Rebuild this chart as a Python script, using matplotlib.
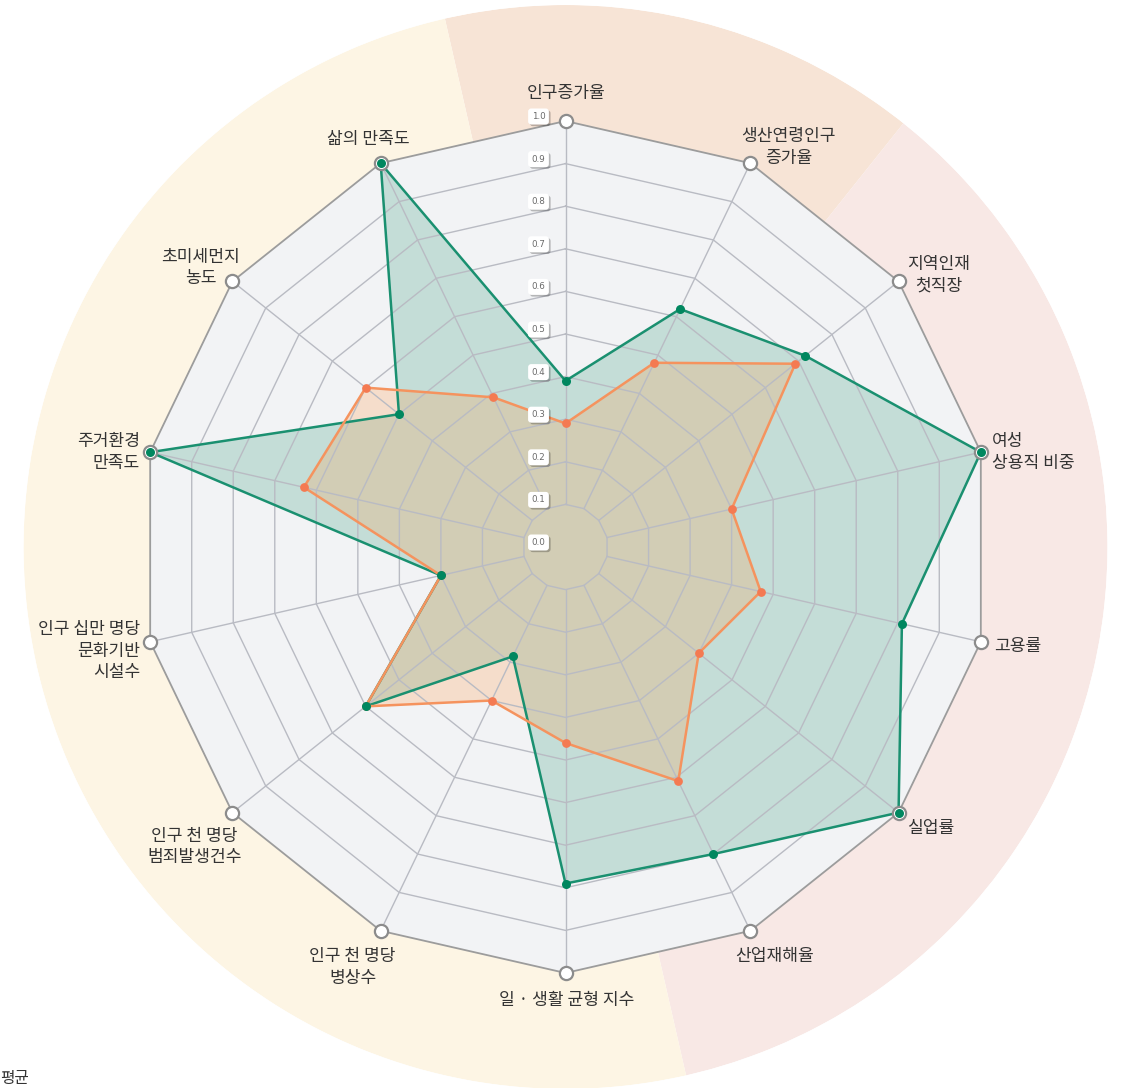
import numpy as np
import matplotlib
matplotlib.use('Agg')
import matplotlib.pyplot as plt
from matplotlib import patheffects as pe

plt.rcParams['font.family'] = ['Noto Sans CJK KR', 'DejaVu Sans']

# ---------------- data ----------------
categories = ['인구증가율', '생산연령인구\n증가율', '지역인재\n첫직장', '여성\n상용직 비중', '고용률',
              '실업률', '산업재해율', '일 · 생활 균형 지수', '인구 천 명당\n병상수',
              '인구 천 명당\n범죄발생건수', '인구 십만 명당\n문화기반\n시설수', '주거환경\n만족도',
              '초미세먼지\n농도', '삶의 만족도']
region_values = [0.39, 0.62, 0.72, 1.00, 0.81, 1.00, 0.80, 0.79, 0.285, 0.60, 0.30, 1.00, 0.50, 1.00]
average_values = [0.29, 0.48, 0.69, 0.40, 0.47, 0.40, 0.61, 0.46, 0.40, 0.60, 0.30, 0.63, 0.60, 0.39]
axis_groups = [0, 0, 1, 1, 1, 1, 1, 2, 2, 2, 2, 2, 2, 2]
group_colors = ['#F7E4D6', '#F8E8E5', '#FDF5E4']
tick_values = [0.0, 0.1, 0.2, 0.3, 0.4, 0.5, 0.6, 0.7, 0.8, 0.9, 1.0]
legend_text = '평균'

# label placement (pixel offsets from axis end, x right / y down), alignment
label_offsets = [(1, -28), (38, -16), (40, -7), (11, 0), (13, 4), (9, 15), (24, 25),
                 (1, 27), (-28, 36), (-38, 34), (-10, 9), (-10, 0), (-32, -14), (-12, -24)]
label_ha = ['center', 'center', 'center', 'left', 'left', 'left', 'center',
            'center', 'center', 'center', 'right', 'right', 'center', 'center']

# ---------------- layout ----------------
W, H = 1128, 1088
CX, CY = 565.5, 547.0
R1 = 426.0          # pixel radius of value 1.0
RBG = 542.0         # background circle radius
RMAX = RBG / R1

fig = plt.figure(figsize=(W / 100, H / 100), dpi=100)
fig.patch.set_facecolor('white')
ax = fig.add_axes([(CX - RBG) / W, (H - CY - RBG) / H, 2 * RBG / W, 2 * RBG / H], projection='polar')
ax.set_theta_zero_location('N')
ax.set_theta_direction(-1)
ax.set_ylim(0, RMAX)
ax.set_axis_off()

N = len(categories)
step = 2 * np.pi / N
theta = np.arange(N) * step
theta_c = np.append(theta, theta[0])

# background sectors
for g, col in enumerate(group_colors):
    idx = [i for i in range(N) if axis_groups[i] == g]
    start = theta[min(idx)] - step / 2
    end = theta[max(idx)] + step / 2
    ax.bar((start + end) / 2, RMAX, width=end - start, bottom=0, color=col,
           edgecolor='none', zorder=0)

# inner polygon background
ax.fill(theta_c, np.ones(N + 1), color='#F2F3F5', zorder=1, lw=0)

# data fills
ax.fill(theta_c, np.append(region_values, region_values[0]), color='#1B8F6A', alpha=0.21,
        zorder=2, lw=0)
ax.fill(theta_c, np.append(average_values, average_values[0]), color='#FF9F51', alpha=0.25,
        zorder=3, lw=0)

# grid polygons and spokes
for v in tick_values[1:-1]:
    ax.plot(theta_c, np.full(N + 1, v), color='#B9BBC3', lw=1.0, zorder=4)
for t in theta:
    ax.plot([t, t], [tick_values[1], 1.0], color='#B9BBC3', lw=1.0, zorder=4)
ax.plot(theta_c, np.ones(N + 1), color='#9C9C9C', lw=1.3, zorder=5)

# data lines
ax.plot(theta_c, np.append(region_values, region_values[0]), color='#1A9070', lw=1.8, zorder=6)
ax.plot(theta_c, np.append(average_values, average_values[0]), color='#F5935E', lw=1.8, zorder=7)

# axis end markers
ax.plot(theta, np.ones(N), 'o', ms=9.5, mfc='white', mec='#8C8C8C', mew=1.6, zorder=8, ls='none')

# data markers
ax.plot(theta, average_values, 'o', ms=6.3, color='#F47A52', mec='none', zorder=9, ls='none')
ax.plot(theta, region_values, 'o', ms=6.5, color='#00875F', mec='none', zorder=10, ls='none')

# tick labels
for v in tick_values:
    t = ax.annotate(f'{v:.1f}', xy=(0, v), xytext=(-27, 4.5), textcoords='offset pixels',
                    ha='center', va='center', fontsize=6.3, color='#6A6A6A',
                    family=['DejaVu Sans'], zorder=11,
                    bbox=dict(boxstyle='round,pad=0.4,rounding_size=0.35', fc='white', ec='none'))
    t.get_bbox_patch().set_path_effects([
        pe.SimplePatchShadow(offset=(1.2, -1.2), shadow_rgbFace='black', alpha=0.25), pe.Normal()])

# category labels
for i, lab in enumerate(categories):
    dx, dy = label_offsets[i]
    ax.annotate(lab, xy=(theta[i], 1.0), xytext=(dx, -dy), textcoords='offset pixels',
                ha=label_ha[i], va='center', multialignment=label_ha[i],
                fontsize=12.3, color='#333333', linespacing=1.26, zorder=12,
                annotation_clip=False)

fig.text(0.0, 1 - 1078 / H, legend_text, ha='left', va='center', fontsize=11.3, color='#333333')

fig.savefig('out.png', dpi=100)
